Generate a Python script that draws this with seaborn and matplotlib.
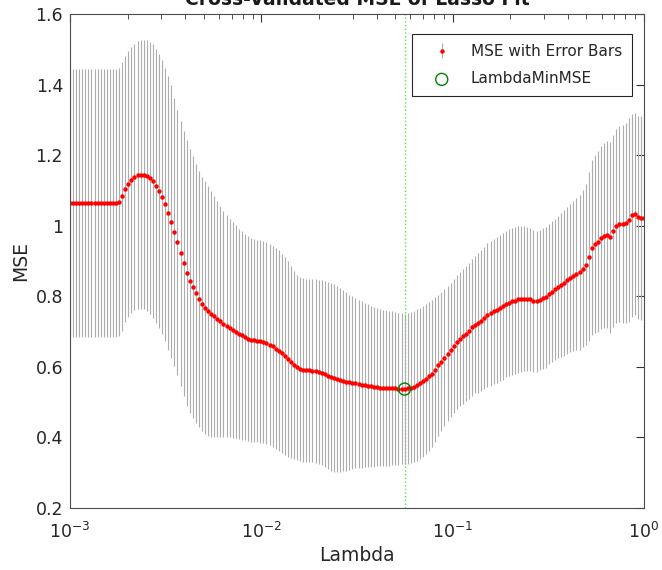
import numpy as np
import pandas as pd
import matplotlib
matplotlib.use("Agg")
import matplotlib.pyplot as plt
import seaborn as sns
from matplotlib.ticker import FormatStrFormatter

# Cross-validated MSE and standard error for each lambda
mse = [
    1.065, 1.065, 1.065, 1.065, 1.065, 1.065, 1.065, 1.065, 1.065, 1.065,
    1.065, 1.065, 1.065, 1.065, 1.065, 1.065, 1.068, 1.083, 1.103, 1.118,
    1.130, 1.138, 1.143, 1.145, 1.145, 1.142, 1.136, 1.126, 1.113, 1.098,
    1.081, 1.061, 1.037, 1.011, 0.983, 0.953, 0.922, 0.893, 0.866, 0.844,
    0.826, 0.808, 0.793, 0.779, 0.768, 0.758, 0.750, 0.743, 0.736, 0.729,
    0.722, 0.716, 0.710, 0.704, 0.699, 0.694, 0.689, 0.684, 0.680, 0.677,
    0.675, 0.673, 0.672, 0.670, 0.667, 0.663, 0.658, 0.652, 0.646, 0.638,
    0.630, 0.622, 0.614, 0.606, 0.599, 0.594, 0.591, 0.590, 0.590, 0.589,
    0.588, 0.586, 0.583, 0.579, 0.575, 0.571, 0.568, 0.565, 0.563, 0.561,
    0.558, 0.556, 0.555, 0.553, 0.552, 0.550, 0.548, 0.546, 0.545, 0.543,
    0.542, 0.541, 0.540, 0.540, 0.539, 0.539, 0.539, 0.538, 0.538, 0.537,
    0.539, 0.541, 0.544, 0.548, 0.553, 0.559, 0.566, 0.573, 0.581, 0.592,
    0.604, 0.615, 0.626, 0.637, 0.648, 0.659, 0.670, 0.679, 0.687, 0.694,
    0.702, 0.712, 0.720, 0.725, 0.731, 0.739, 0.746, 0.752, 0.757, 0.762,
    0.767, 0.772, 0.778, 0.782, 0.786, 0.788, 0.791, 0.792, 0.793, 0.793,
    0.791, 0.787, 0.786, 0.790, 0.794, 0.797, 0.806, 0.813, 0.820, 0.826,
    0.832, 0.838, 0.845, 0.852, 0.858, 0.863, 0.868, 0.878, 0.890, 0.912,
    0.937, 0.948, 0.955, 0.966, 0.972, 0.975, 0.967, 0.984, 0.999, 1.005,
    1.004, 1.008, 1.016, 1.029, 1.034, 1.024, 1.022, 1.023,
]
se = [
    0.380, 0.380, 0.380, 0.380, 0.380, 0.380, 0.380, 0.380, 0.380, 0.380,
    0.380, 0.380, 0.380, 0.380, 0.380, 0.380, 0.380, 0.380, 0.377, 0.376,
    0.377, 0.378, 0.380, 0.381, 0.382, 0.384, 0.386, 0.388, 0.389, 0.389,
    0.388, 0.387, 0.388, 0.387, 0.380, 0.376, 0.375, 0.376, 0.376, 0.374,
    0.371, 0.367, 0.363, 0.360, 0.358, 0.354, 0.348, 0.341, 0.334, 0.327,
    0.320, 0.314, 0.310, 0.306, 0.302, 0.298, 0.295, 0.292, 0.290, 0.289,
    0.288, 0.287, 0.287, 0.286, 0.286, 0.285, 0.285, 0.285, 0.284, 0.283,
    0.281, 0.277, 0.272, 0.266, 0.262, 0.260, 0.260, 0.260, 0.260, 0.260,
    0.260, 0.261, 0.262, 0.264, 0.265, 0.266, 0.266, 0.264, 0.261, 0.257,
    0.253, 0.249, 0.245, 0.241, 0.238, 0.236, 0.233, 0.231, 0.228, 0.226,
    0.224, 0.222, 0.221, 0.220, 0.219, 0.218, 0.216, 0.215, 0.214, 0.213,
    0.213, 0.214, 0.215, 0.215, 0.215, 0.214, 0.213, 0.211, 0.208, 0.205,
    0.201, 0.198, 0.194, 0.191, 0.190, 0.190, 0.190, 0.190, 0.191, 0.192,
    0.193, 0.194, 0.195, 0.198, 0.200, 0.202, 0.204, 0.205, 0.206, 0.207,
    0.208, 0.208, 0.208, 0.208, 0.208, 0.208, 0.207, 0.207, 0.206, 0.204,
    0.202, 0.201, 0.200, 0.199, 0.199, 0.199, 0.199, 0.199, 0.200, 0.202,
    0.204, 0.206, 0.208, 0.210, 0.213, 0.216, 0.219, 0.222, 0.228, 0.240,
    0.248, 0.252, 0.256, 0.260, 0.263, 0.266, 0.270, 0.272, 0.275, 0.278,
    0.281, 0.284, 0.288, 0.288, 0.286, 0.288, 0.290, 0.291,
]
# lambda grid: geometric sequence over three decades
lam = np.logspace(-3, 0, len(mse))

yticks = [0.2, 0.4, 0.6, 0.8, 1.0, 1.2, 1.4, 1.6]

sns.set_style("white")
plt.rcParams['font.family'] = ['DejaVu Sans']

fig = plt.figure(figsize=(6.62, 5.70), dpi=100)
ax = fig.add_axes([70 / 662, 1 - 508 / 570, 574 / 662, 494 / 570])

# MSE points with error bars
ax.errorbar(lam, mse, yerr=se, fmt='o', color='red', ms=3.2, mew=0,
            ecolor='0.68', elinewidth=0.8, capsize=2.4, capthick=0.9,
            label='MSE with Error Bars', zorder=2)

# minimum MSE marker and dotted line
imin = int(np.argmin(mse))
ax.axvline(lam[imin], color=(0.35, 0.85, 0.35), ls=':', lw=1.0, zorder=1)
df_min = pd.DataFrame({'Lambda': [lam[imin]], 'MSE': [mse[imin]]})
sns.scatterplot(data=df_min, x='Lambda', y='MSE', ax=ax, marker='o', s=75,
                facecolor='none', edgecolor=(0, 0.5, 0), linewidth=1.0,
                label='LambdaMinMSE', zorder=3)

ax.set_xscale('log')
ax.set_xlim(1e-3, 1)
ax.set_ylim(0.2, 1.6)
ax.set_yticks(yticks)
ax.yaxis.set_major_formatter(FormatStrFormatter('%g'))

ax.tick_params(which='both', direction='in', top=True, right=True,
               colors='0.2', labelcolor='0.15', labelsize=12.5)
ax.tick_params(which='major', length=6, width=0.8)
ax.tick_params(which='minor', length=3.5, width=0.6)
ax.tick_params(axis='y', pad=5)
ax.tick_params(axis='x', which='both', pad=10)
for s in ax.spines.values():
    s.set_color('0.3')
    s.set_linewidth(0.8)

ax.set_xlabel('Lambda', fontsize=13.5, color='0.15', labelpad=3)
ax.set_ylabel('MSE', fontsize=13.5, color='0.15')

# title sits partly above the top edge of the figure, as in the original
fig.text((70 + 644) / 2 / 662, 1 - 5 / 570, 'Cross-Validated MSE of Lasso Fit',
         ha='center', va='baseline', fontsize=13.5, fontweight='bold',
         color='0.1')

h, l = ax.get_legend_handles_labels()
order = [l.index('MSE with Error Bars'), l.index('LambdaMinMSE')]
leg = ax.legend([h[i] for i in order], [l[i] for i in order],
                loc='upper right', bbox_to_anchor=(0.979, 0.959),
                borderaxespad=0, fontsize=11, frameon=True, fancybox=False,
                framealpha=1, edgecolor='0.15', handlelength=2.6,
                handletextpad=0.6, borderpad=0.65, labelspacing=0.8,
                numpoints=1)
leg.get_frame().set_linewidth(0.8)

fig.savefig('out.png', dpi=100)
